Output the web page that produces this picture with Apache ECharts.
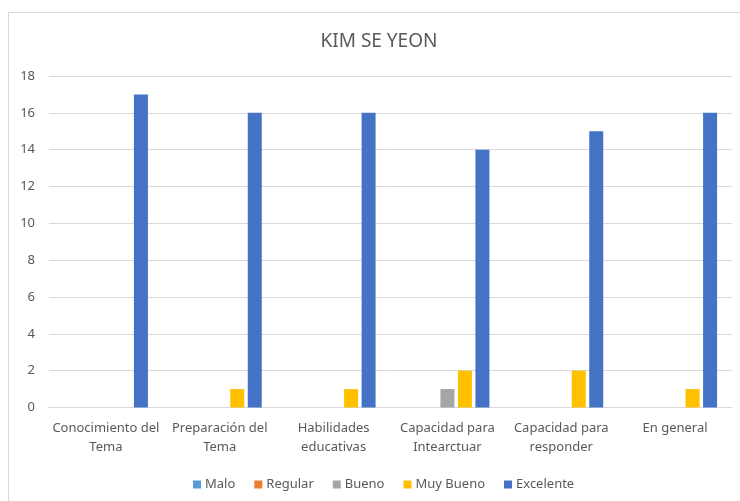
<!DOCTYPE html>
<html>
<head>
<meta charset="utf-8">
<script src="https://cdn.jsdelivr.net/npm/echarts@6/dist/echarts.min.js"></script>
<style>html,body{margin:0;padding:0;background:#fff}#c{width:740px;height:501px}</style>
</head>
<body>
<div id="c"></div>
<script>
const categories = ["Conocimiento del\nTema", "Preparación del\nTema", "Habilidades\neducativas", "Capacidad para\nIntearctuar", "Capacidad para\nresponder", "En general"];
const seriesNames = ["Malo", "Regular", "Bueno", "Muy Bueno", "Excelente"];
const malo      = [0, 0, 0, 0, 0, 0];
const regular   = [0, 0, 0, 0, 0, 0];
const bueno     = [0, 0, 0, 1, 0, 0];
const muyBueno  = [0, 1, 1, 2, 2, 1];
const excelente = [17, 16, 16, 14, 15, 16];
const colors = ["#5B9BD5", "#ED7D31", "#A5A5A5", "#FFC000", "#4472C4"];
const yTicks = [0, 2, 4, 6, 8, 10, 12, 14, 16, 18];

const values = [malo, regular, bueno, muyBueno, excelente];
const font = "'Noto Sans', 'Open Sans', sans-serif";
const chart = echarts.init(document.getElementById('c'));
chart.setOption({
  animation: false,
  backgroundColor: '#fff',
  graphic: [{
    type: 'rect', shape: {x: 8.5, y: 12.5, width: 760, height: 520},
    style: {fill: 'none', stroke: '#d9d9d9', lineWidth: 1}, silent: true, z: -1
  }],
  title: {
    text: 'KIM SE YEON', left: 374, top: 27, textAlign: 'center',
    textStyle: {fontFamily: font, fontSize: 19, fontWeight: 'normal', color: '#595959'}
  },
  legend: {
    data: seriesNames, left: 188, top: 473, itemWidth: 8, itemHeight: 8, itemGap: 19,
    icon: 'rect',
    textStyle: {fontFamily: font, fontSize: 13, color: '#595959', padding: [0, 0, 0, -1]}
  },
  grid: {left: 49, right: 8, top: 76, bottom: 93.5, containLabel: false},
  xAxis: {
    type: 'category', data: categories,
    axisLine: {lineStyle: {color: '#d9d9d9', width: 1}},
    axisTick: {show: false},
    axisLabel: {interval: 0, fontFamily: font, fontSize: 13, color: '#595959', lineHeight: 19, margin: 11}
  },
  yAxis: {
    type: 'value', min: yTicks[0], max: yTicks[yTicks.length - 1], interval: 2,
    axisLine: {show: false}, axisTick: {show: false},
    splitLine: {lineStyle: {color: '#d9d9d9', width: 1}},
    axisLabel: {fontFamily: font, fontSize: 13, color: '#595959', margin: 14}
  },
  series: seriesNames.map((n, i) => ({
    name: n, type: 'bar', data: values[i], barWidth: 14, barGap: '25%',
    itemStyle: {color: colors[i]}
  }))
});
</script>
</body>
</html>
